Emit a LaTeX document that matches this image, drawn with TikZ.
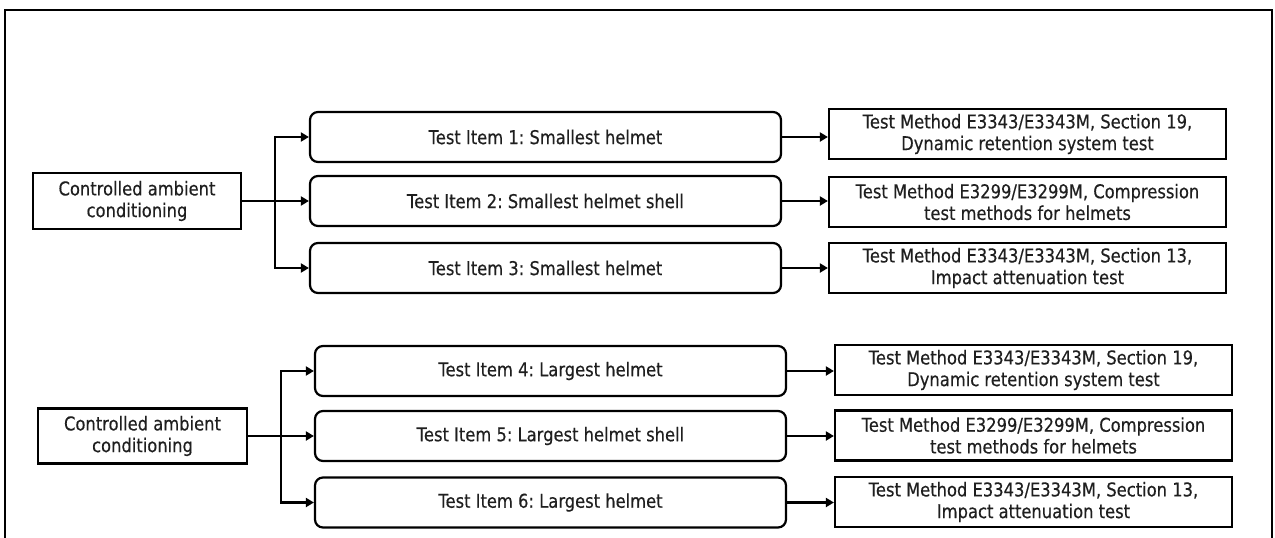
\documentclass[tikz,border=0pt]{standalone}
\usepackage{fontspec}
\setmainfont[FakeStretch=0.86,FakeBold=0.4]{DejaVu Sans}
\usetikzlibrary{arrows.meta}
\begin{document}
\frenchspacing
\begin{tikzpicture}[x=1pt,y=-1pt,
  every node/.style={font=\fontsize{19}{21.7}\selectfont, text=black!88, align=center, inner sep=0pt},
  condbox/.style={draw, line width=2.2pt, minimum width=208pt, minimum height=56pt},
  itembox/.style={draw, line width=2.2pt, rounded corners=8pt, minimum width=471pt, minimum height=50pt},
  methbox/.style={draw, line width=2.2pt, minimum width=397pt, minimum height=50pt},
  arr/.style={line width=2.2pt, -{Triangle[length=8pt,width=9pt]}}]
\useasboundingbox (0,0) rectangle (1275,538);
% frame (open at the bottom)
\draw[line width=2.4pt] (5,538) -- (5,10) -- (1272,10) -- (1272,538);

% upper group
\node[condbox] (C1) at (137,201) {Controlled ambient\\conditioning};
\node[itembox] (R1) at (545.5,137) {Test Item 1: Smallest helmet};
\node[itembox] (R2) at (545.5,201) {Test Item 2: Smallest helmet shell};
\node[itembox] (R3) at (545.5,268) {Test Item 3: Smallest helmet};
\node[methbox] (T1) at (1027.5,134) {Test Method E3343/E3343M, Section 19,\\Dynamic retention system test};
\node[methbox] (T2) at (1027.5,202) {Test Method E3299/E3299M, Compression\\test methods for helmets};
\node[methbox] (T3) at (1027.5,268) {Test Method E3343/E3343M, Section 13,\\Impact attenuation test};
\coordinate (F1) at (275,201);
\draw[arr] (C1.east) -- (R2.west);
\draw[arr] (F1) |- (R1.west);
\draw[arr] (F1) |- (R3.west);
\draw[arr] (R1.east) -- (R1.east -| T1.west);
\draw[arr] (R2.east) -- (R2.east -| T2.west);
\draw[arr] (R3.east) -- (R3.east -| T3.west);

% lower group
\node[condbox, minimum width=209pt, minimum height=55pt] (C2) at (142.5,436) {Controlled ambient\\conditioning};
\node[itembox] (R4) at (550.5,371) {Test Item 4: Largest helmet};
\node[itembox] (R5) at (550.5,436) {Test Item 5: Largest helmet shell};
\node[itembox] (R6) at (550.5,502.5) {Test Item 6: Largest helmet};
\node[methbox] (T4) at (1033.5,370) {Test Method E3343/E3343M, Section 19,\\Dynamic retention system test};
\node[methbox] (T5) at (1033.5,435.5) {Test Method E3299/E3299M, Compression\\test methods for helmets};
\node[methbox] (T6) at (1033.5,502) {Test Method E3343/E3343M, Section 13,\\Impact attenuation test};
\coordinate (F2) at (281,436);
\draw[arr] (C2.east) -- (R5.west);
\draw[arr] (F2) |- (R4.west);
\draw[arr] (F2) |- (R6.west);
\draw[arr] (R4.east) -- (R4.east -| T4.west);
\draw[arr] (R5.east) -- (R5.east -| T5.west);
\draw[arr] (R6.east) -- (R6.east -| T6.west);
\end{tikzpicture}
\end{document}
